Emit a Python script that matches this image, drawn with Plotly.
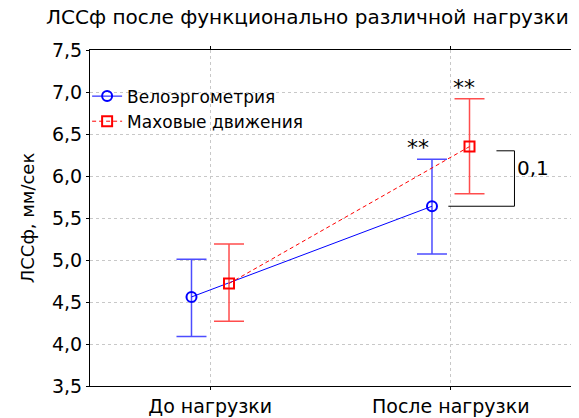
import plotly.graph_objects as go

categories = ["До нагрузки", "После нагрузки"]
series_names = ["Велоэргометрия", "Маховые движения"]
velo_mean = [4.56, 5.64]
velo_upper = [5.01, 6.20]
velo_lower = [4.09, 5.07]
swing_mean = [4.72, 6.35]
swing_upper = [5.19, 6.92]
swing_lower = [4.27, 5.79]
y_ticks = [3.5, 4.0, 4.5, 5.0, 5.5, 6.0, 6.5, 7.0, 7.5]
y_tick_labels = ["3,5", "4,0", "4,5", "5,0", "5,5", "6,0", "6,5", "7,0", "7,5"]
star_labels = ["**", "**"]
p_label = "0,1"
title_text = "ЛССф после функционально различной нагрузки"
y_title = "ЛССф, мм/сек"

FONT = "DejaVu Sans"
off = 0.078
idx = list(range(len(categories)))
xv = [i - off for i in idx]
xs = [i + off for i in idx]

fig = go.Figure()
fig.add_trace(go.Scatter(
    x=xv, y=velo_mean, name=series_names[0], mode="lines+markers",
    line=dict(color="#0000ff", width=1),
    marker=dict(symbol="circle-open", size=10, color="#0000ff", line=dict(width=2)),
    error_y=dict(type="data", symmetric=False,
                 array=[u - m for u, m in zip(velo_upper, velo_mean)],
                 arrayminus=[m - l for m, l in zip(velo_mean, velo_lower)],
                 color="#4d4dff", thickness=1.5, width=15),
))
fig.add_trace(go.Scatter(
    x=xs, y=swing_mean, name=series_names[1], mode="lines+markers",
    line=dict(color="#ff0000", width=1, dash="4px,3px"),
    marker=dict(symbol="square-open", size=10, color="#ff0000", line=dict(width=2)),
    error_y=dict(type="data", symmetric=False,
                 array=[u - m for u, m in zip(swing_upper, swing_mean)],
                 arrayminus=[m - l for m, l in zip(swing_mean, swing_lower)],
                 color="#ff4d4d", thickness=1.5, width=15),
))

# significance stars
fig.add_annotation(x=xv[1], y=velo_upper[1], text=star_labels[0], showarrow=False,
                   yanchor="bottom", yshift=-3, xshift=-14, font=dict(size=22, color="black", family=FONT))
fig.add_annotation(x=xs[1], y=swing_upper[1], text=star_labels[1], showarrow=False,
                   yanchor="bottom", yshift=-3, xshift=-6, font=dict(size=22, color="black", family=FONT))

# bracket between means
bx = 1.265
fig.add_shape(type="line", x0=0.99, x1=bx, y0=velo_mean[1], y1=velo_mean[1], line=dict(color="black", width=1))
fig.add_shape(type="line", x0=bx, x1=bx, y0=velo_mean[1], y1=6.30, line=dict(color="black", width=1))
fig.add_shape(type="line", x0=1.19, x1=bx, y0=6.30, y1=6.30, line=dict(color="black", width=1))
fig.add_annotation(x=bx, y=(velo_mean[1] + 6.30) / 2 + 0.13, text=p_label, showarrow=False,
                   xanchor="left", xshift=1, font=dict(size=20, color="black", family=FONT))

# title
fig.add_annotation(xref="paper", yref="paper", x=1.0, y=1.0, yshift=19,
                   text=title_text, showarrow=False, xanchor="right", yanchor="bottom",
                   font=dict(size=20, color="#000000", family=FONT))

# page body has an 8px margin: figure is sized/offset to land the plot at the reference position
fig.update_layout(
    width=571, height=410,
    margin=dict(l=82, r=8, t=42, b=32),
    paper_bgcolor="white", plot_bgcolor="white",
    font=dict(family=FONT, color="black", size=17),
    showlegend=True,
    legend=dict(x=-0.006, y=0.915, xanchor="left", yanchor="top", bgcolor="rgba(0,0,0,0)",
                font=dict(size=17, family=FONT), tracegroupgap=0, itemwidth=30),
)
fig.update_xaxes(range=[-0.5, 1.5], tickvals=idx, ticktext=categories, automargin=False,
                 showline=True, linecolor="black", linewidth=1, mirror="ticks",
                 ticks="outside", ticklen=3, tickcolor="black",
                 showgrid=True, gridcolor="#c8c8c8", griddash="dot", gridwidth=1,
                 zeroline=False, tickfont=dict(size=19))
fig.update_yaxes(range=[3.5, 7.5], tickvals=y_ticks, ticktext=y_tick_labels, automargin=False,
                 showline=True, linecolor="black", linewidth=1, mirror="ticks",
                 ticks="outside", ticklen=3, tickcolor="black",
                 showgrid=True, gridcolor="#c8c8c8", griddash="dot", gridwidth=1,
                 zeroline=False, tickfont=dict(size=19),
                 title=dict(text=y_title, font=dict(size=18), standoff=12))

fig.write_html("out.html")
